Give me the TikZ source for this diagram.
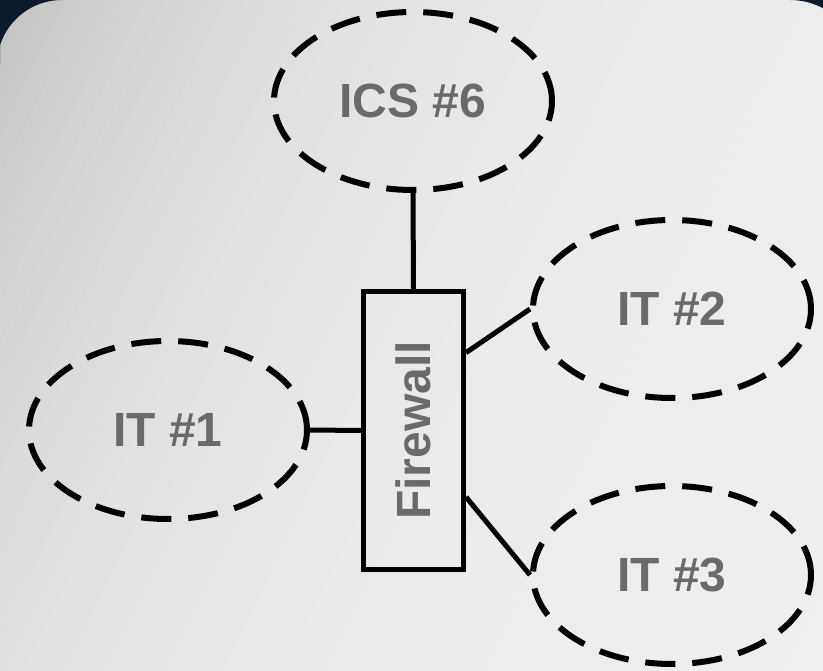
\documentclass[tikz,border=0pt]{standalone}
\usepackage{fontspec}
\setmainfont{Liberation Sans}
\usetikzlibrary{shapes.geometric,calc}
\definecolor{navy}{RGB}{12,26,43}
\definecolor{labelgrey}{RGB}{106,106,106}
\tikzset{
  netcloud/.style = {ellipse, draw, dash pattern=on 30pt off 17pt, line width=6pt,
    minimum width=278pt, minimum height=178pt, inner sep=0pt,
    text=labelgrey, font=\bfseries\fontsize{48}{52}\selectfont},
  fwbox/.style = {rectangle, draw, line width=5pt, minimum width=100pt,
    minimum height=278pt, inner sep=0pt},
  link/.style = {line width=5pt}
}
\begin{document}
\begin{tikzpicture}[x=1pt,y=-1pt]
\useasboundingbox (0,0) rectangle (823,671);
\fill[black!12] (-30,-30) rectangle (853,701);
\foreach \i in {-2,...,62} {
  \pgfmathsetmacro\bandshade{6+19*exp(-(max(\i,0)*20+10)/300)}
  \fill[black!\bandshade] (\i*20,-30) -- (\i*20+21,-30) -- (\i*20+21-365,730) -- (\i*20-365,730) -- cycle;
}
\fill[navy] (0,0) -- (62,0) arc[start angle=270, end angle=180, radius=65] -- (0,65) -- cycle;
\fill[navy] (790,0) arc[start angle=270, end angle=360, radius=70] -- (860,0) -- cycle;

\node[netcloud] (ics6) at (413,101) {ICS \#6};
\node[netcloud] (it1) at (168,430) {IT \#1};
\node[netcloud] (it2) at (672,309) {IT \#2};
\node[netcloud] (it3) at (672,575) {IT \#3};

\node[fwbox] (fw) at (413.5,430.5) {};
\node[rotate=90, text=labelgrey, font=\bfseries\fontsize{48}{52}\selectfont] (fwtext) at (fw) {Firewall};

\draw[link] (ics6.south) -- (fw.north);
\draw[link] (it1.east) -- (fw.west);
\draw[link] (it2.west) -- ($(fw.east)!0.55!(fw.north east)$);
\draw[link] (it3.west) -- ($(fw.east)!0.47!(fw.south east)$);
\end{tikzpicture}
\end{document}
